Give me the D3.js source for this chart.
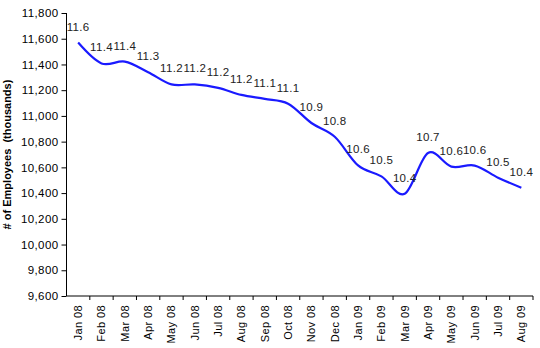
<!DOCTYPE html>
<html>
<head>
<meta charset="utf-8">
<script src="https://cdn.jsdelivr.net/npm/d3@7"></script>
<style>
  html, body { margin: 0; padding: 0; background: #fff; }
  svg { display: block; font-family: "Liberation Sans", Arial, sans-serif; }
</style>
</head>
<body>
<svg id="chart" width="540" height="348"></svg>
<script>
const months = ["Jan 08","Feb 08","Mar 08","Apr 08","May 08","Jun 08","Jul 08","Aug 08","Sep 08","Oct 08",
                "Nov 08","Dec 08","Jan 09","Feb 09","Mar 09","Apr 09","May 09","Jun 09","Jul 09","Aug 09"];
const employees = [11570, 11408, 11422, 11340, 11245, 11245, 11218, 11163, 11132, 11095,
                   10945, 10838, 10615, 10530, 10395, 10712, 10606, 10614, 10520, 10442];
const yTicks = [9600, 9800, 10000, 10200, 10400, 10600, 10800, 11000, 11200, 11400, 11600, 11800];
const yTitle = "# of Employees  (thousands)";

const svg = d3.select("#chart");
const m = { left: 66.5, right: 7, top: 13, bottom: 52 };
const W = 540, H = 348;

const x = d3.scaleBand().domain(months).range([m.left, W - m.right]).paddingInner(0).paddingOuter(0);
const y = d3.scaleLinear().domain([9600, 11800]).range([H - m.bottom, m.top]);

// Y axis
const yAxis = svg.append("g")
  .attr("transform", `translate(${m.left},0)`)
  .call(d3.axisLeft(y).tickValues(yTicks).tickFormat(d3.format(",")).tickSize(5).tickPadding(3));
yAxis.select(".domain").attr("stroke", "#000").attr("d", `M0,${y(11800)}V${y(9600)}`);
yAxis.selectAll(".tick line").attr("stroke", "#000");
yAxis.selectAll(".tick text").attr("font-size", 11.5).attr("letter-spacing", "0.4px")
  .attr("fill", "#000").attr("font-family", "'Liberation Sans', Arial, sans-serif");

// X axis
const xAxis = svg.append("g")
  .attr("transform", `translate(0,${H - m.bottom})`)
  .call(d3.axisBottom(x).tickSize(0).tickPadding(0));
xAxis.select(".domain").attr("stroke", "#000").attr("d", `M${m.left},0H${W - m.right}`);
xAxis.selectAll(".tick text")
  .attr("font-size", 11).attr("fill", "#000").attr("letter-spacing", "0.4px")
  .attr("font-family", "'Liberation Sans', Arial, sans-serif")
  .attr("text-anchor", "end")
  .attr("transform", "rotate(-90)")
  .attr("x", -9).attr("y", 0).attr("dy", "0.35em");
// tick marks at band boundaries
const bounds = months.map(d => x(d)).concat([x(months[months.length - 1]) + x.bandwidth()]);
xAxis.selectAll(".bt").data(bounds.slice(1)).enter().append("line")
  .attr("x1", d => d).attr("x2", d => d).attr("y1", 0).attr("y2", 4).attr("stroke", "#000");

// Y title
svg.append("text")
  .attr("transform", `translate(11,${(y(11800) + y(9600)) / 2}) rotate(-90)`)
  .attr("text-anchor", "middle")
  .attr("font-size", 11).attr("font-weight", "bold").attr("fill", "#000")
  .style("white-space", "pre")
  .text(yTitle);

const cx = d => x(d) + x.bandwidth() / 2;
const data = months.map((mo, i) => ({ mo, v: employees[i] }));

// Line
const line = d3.line().x(d => cx(d.mo)).y(d => y(d.v)).curve(d3.curveCardinal.tension(0));
svg.append("path").datum(data)
  .attr("d", line).attr("fill", "none").attr("stroke", "#1a1aff").attr("stroke-width", 2.2);

// Data labels
const fmt = v => (v / 1000).toFixed(1);
svg.append("g").selectAll("text").data(data).enter().append("text")
  .attr("x", d => cx(d.mo)).attr("y", d => y(d.v) - 12)
  .attr("text-anchor", "middle").attr("font-size", 11.5).attr("letter-spacing", "0.3px").attr("fill", "#222")
  .text(d => fmt(d.v));
</script>
</body>
</html>
